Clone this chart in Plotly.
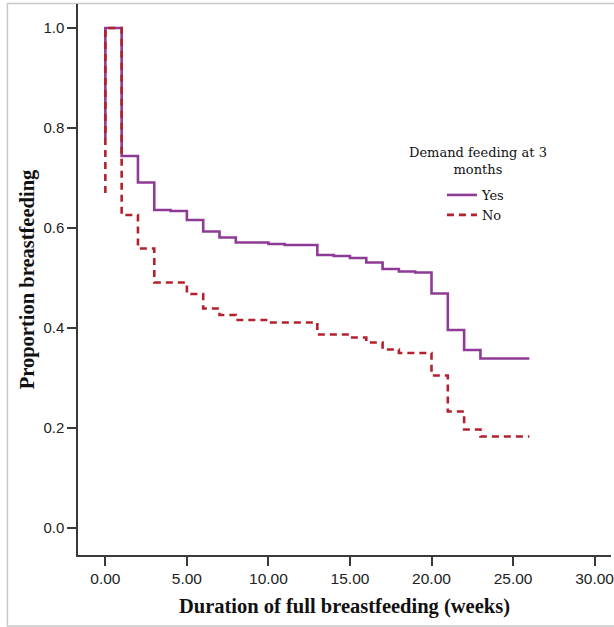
import plotly.graph_objects as go

# Kaplan-Meier estimates: proportion still fully breastfeeding by week
weeks_yes = [0, 0, 1, 2, 3, 4, 5, 6, 7, 8, 10, 11, 13, 14, 15, 16, 17, 18, 19, 20, 21, 22, 23, 26]
prop_yes = [0.78, 1.0, 0.744, 0.691, 0.636, 0.634, 0.616, 0.593, 0.581, 0.571, 0.568, 0.566,
            0.546, 0.544, 0.540, 0.531, 0.518, 0.513, 0.511, 0.469, 0.396, 0.356, 0.339, 0.339]

weeks_no = [0, 0, 1, 2, 3, 5, 6, 7, 8, 10, 13, 15, 16, 17, 18, 20, 21, 22, 23, 26]
prop_no = [0.67, 1.0, 0.626, 0.559, 0.491, 0.468, 0.439, 0.426, 0.416, 0.411, 0.387,
           0.381, 0.371, 0.357, 0.350, 0.305, 0.233, 0.197, 0.183, 0.183]

x_ticks = [0, 5, 10, 15, 20, 25, 30]
x_tick_labels = ["0.00", "5.00", "10.00", "15.00", "20.00", "25.00", "30.00"]
y_ticks = [0.0, 0.2, 0.4, 0.6, 0.8, 1.0]
y_tick_labels = ["0.0", "0.2", "0.4", "0.6", "0.8", "1.0"]

W, H = 614, 627
ML, MR, MT, MB = 78, 0, 4, 72
PW, PH = W - ML - MR, H - MT - MB

fig = go.Figure()
fig.add_trace(go.Scatter(
    x=weeks_yes, y=prop_yes, mode="lines", line_shape="hv", name="Yes",
    line=dict(color="#8E3B98", width=2.6),
))
fig.add_trace(go.Scatter(
    x=weeks_no, y=prop_no, mode="lines", line_shape="hv", name="No",
    line=dict(color="#B3202E", width=2.6, dash="7px,5px"),
))

serif = "Liberation Serif"
wide_serif = "DejaVu Serif"
sans = "Liberation Sans"

fig.update_layout(
    width=W, height=H,
    margin=dict(l=ML, r=MR, t=MT, b=MB, pad=0),
    paper_bgcolor="white", plot_bgcolor="white",
    showlegend=True,
    legend=dict(
        x=(444 - ML) / PW, y=1 - (180 - MT) / PH, xanchor="left", yanchor="top",
        bgcolor="rgba(0,0,0,0)", borderwidth=0,
        font=dict(family=wide_serif, size=13, color="#111"),
        itemwidth=30, tracegroupgap=0,
    ),
    xaxis=dict(
        range=[(ML - 105.5) / 16.4, (W - 105.5) / 16.4],
        tickmode="array", tickvals=x_ticks, ticktext=x_tick_labels,
        ticklabeloverflow="allow",
        showgrid=False, zeroline=False,
        showline=True, linecolor="#3a3a3a", linewidth=1.5,
        ticks="outside", ticklen=9, tickwidth=1.5, tickcolor="#3a3a3a",
        tickfont=dict(family=sans, size=15.5, color="#222"),
        title=dict(text="<b>Duration of full breastfeeding (weeks)</b>",
                   font=dict(family=serif, size=20.5, color="#111"), standoff=12),
    ),
    yaxis=dict(
        range=[-(H - MB - 528) / 500, (528 - MT) / 500],
        tickmode="array", tickvals=y_ticks, ticktext=y_tick_labels,
        showgrid=False, zeroline=False,
        showline=True, linecolor="#3a3a3a", linewidth=1.5,
        ticks="outside", ticklen=9, tickwidth=1.5, tickcolor="#3a3a3a",
        tickfont=dict(family=sans, size=15, color="#222"),
        title=dict(text="<b>Proportion breastfeeding</b>",
                   font=dict(family=serif, size=20.5, color="#111"), standoff=3),
    ),
    annotations=[dict(
        text="Demand feeding at 3<br>months", xref="paper", yref="paper",
        x=(480 - ML) / PW, y=1 - (143 - MT) / PH, xanchor="center", yanchor="top",
        showarrow=False, align="center",
        font=dict(family=wide_serif, size=13, color="#111"),
    )],
    shapes=[dict(
        type="rect", xref="paper", yref="paper",
        x0=(7 - ML) / PW, x1=(W + 5 - ML) / PW,
        y0=-(626 - (H - MB)) / PH, y1=1 + 0.5 / PH,
        line=dict(color="#c8c8c8", width=1.5), fillcolor="rgba(0,0,0,0)", layer="below",
    )],
)

fig.write_html("out.html")
